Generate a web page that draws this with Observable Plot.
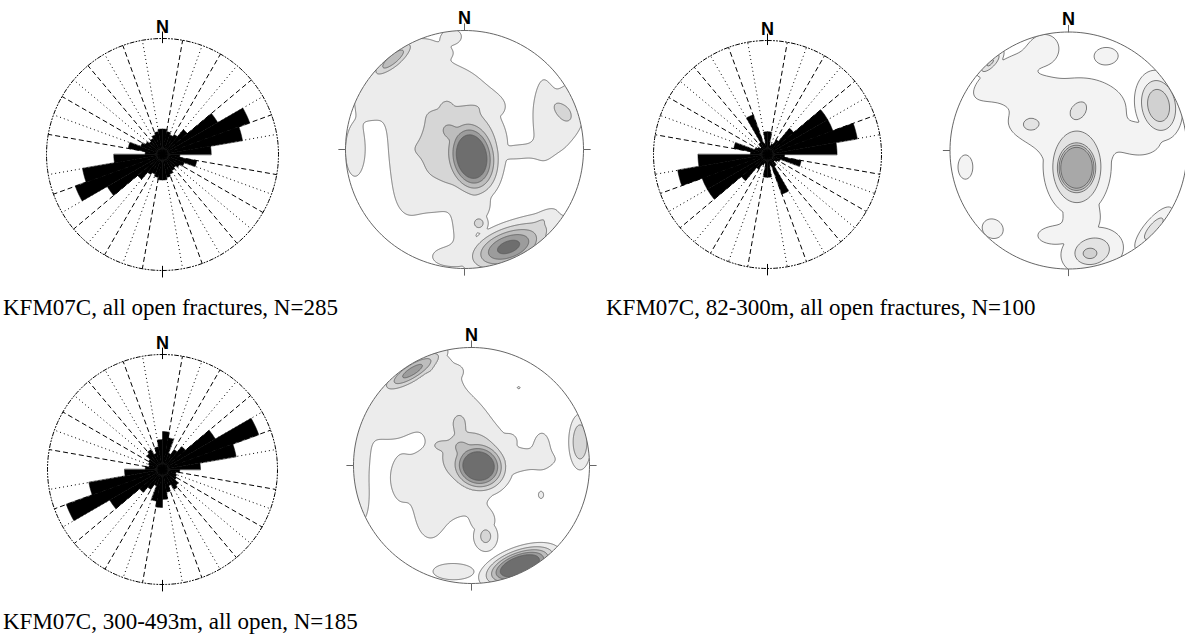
<!DOCTYPE html>
<html><head><meta charset="utf-8">
<script src="https://cdn.jsdelivr.net/npm/d3@7"></script>
<script src="https://cdn.jsdelivr.net/npm/@observablehq/plot@0.6"></script>
<style>
body{margin:0;background:#fff;}
#page{position:relative;width:1185px;height:639px;overflow:hidden;background:#fff;}
.cap{position:absolute;font-family:"Liberation Serif","Times New Roman",serif;font-size:23px;line-height:23px;color:#000;white-space:nowrap;}
</style></head><body><div id="page"></div>
<script>
// ---------- DATA ----------
// rose diagrams: relative length of each 10° strike bin, 0-10 ... 170-180 (mirrored to 180-360)
const binStarts = d3.range(0, 180, 10);
const rose1 = [0.22, 0.2, 0.18, 0.2, 0.28, 0.55, 0.8, 0.7, 0.42, 0.15, 0.3, 0.2, 0.17, 0.15, 0.16, 0.18, 0.2, 0.22];
const rose2 = [0.2, 0.08, 0.1, 0.15, 0.3, 0.61, 0.61, 0.8, 0.61, 0.15, 0.3, 0.12, 0.1, 0.08, 0.12, 0.37, 0.1, 0.2];
const rose3 = [0.33, 0.28, 0.15, 0.2, 0.26, 0.53, 0.89, 0.65, 0.33, 0.15, 0.12, 0.13, 0.14, 0.18, 0.2, 0.15, 0.2, 0.26];
// contour levels of the pole density
const levels = [1, 2, 3, 4, 5];
// pole concentrations read from the stereonets: [east, north, peak, spreadA, spreadB, tiltDeg, sharpness]
const stereo1 = [
  [0.06,-0.06,8,0.13,0.19,10],[-0.12,0.15,3.4,0.1,0.08,-40],[-0.06,0.03,2.6,0.36,0.38,0,2],[-0.15,0.36,2.3,0.07,0.07,0],
  [-0.5,0.68,1.9,0.3,0.17,35],[-0.08,0.52,1.9,0.16,0.12,0],[-0.3,0.3,1.9,0.25,0.18,0],[0.1,0.36,1.9,0.2,0.11,0],
  [-0.42,0.0,1.9,0.15,0.18,0],[-0.47,-0.3,1.9,0.1,0.2,0],[-0.25,-0.4,1.9,0.12,0.1,0],[-0.25,-0.15,1.9,0.12,0.12,0],
  [0.45,-0.02,1.9,0.18,0.05,5],[0.66,0.28,1.9,0.06,0.24,0],[0.86,0.3,1.9,0.13,0.23,-15],[0.82,0.32,2.8,0.1,0.055,-47],
  [0.08,-0.45,1.9,0.12,0.14,0],[0.0,-0.68,1.9,0.07,0.15,0],[-0.12,-0.9,1.9,0.13,0.07,0],[0.12,-0.62,2.4,0.06,0.06,0],
  [0.37,-0.82,5.5,0.22,0.11,20],[0.42,-0.76,2.9,0.32,0.11,22],[0.65,-0.6,1.9,0.13,0.06,35],
  [-0.6,0.76,3.8,0.16,0.05,40],[-0.18,0.815,1.25,0.05,0.03,0],[-0.92,-0.02,1.9,0.07,0.18,0],
  [-0.8,0.45,1.9,0.07,0.11,0],[-0.1,0.95,1.9,0.05,0.04,0]
];
const stereo2 = [
  [0.068,-0.146,8,0.135,0.175,0,2],[0.07,-0.14,2.6,0.235,0.35,0,2],[0.08,0.33,2.8,0.09,0.07,50],[-0.32,0.22,2.8,0.07,0.055,0],
  [-0.22,0.24,1.9,0.24,0.13,0],[0.17,0.42,1.9,0.24,0.14,-10],[0.08,-0.1,1.9,0.24,0.34,0],
  [-0.55,0.63,1.9,0.25,0.1,35],[-0.38,0.5,1.9,0.15,0.08,0],[-0.18,0.47,1.9,0.1,0.07,-20],
  [-0.66,0.74,3.2,0.1,0.04,45],[-0.2,0.86,1.9,0.09,0.09,0],[0.32,0.8,1.9,0.085,0.06,0],[0.76,0.38,4,0.12,0.18,10],
  [0.63,0.09,1.9,0.13,0.1,0],[-0.87,-0.14,1.9,0.055,0.09,0],[-0.64,-0.66,1.9,0.08,0.07,-30],[0.12,-0.6,1.9,0.09,0.09,0],
  [-0.12,-0.72,1.9,0.11,0.055,0],[0.2,-0.85,2.7,0.19,0.14,15],[0.18,-0.87,3.6,0.08,0.06,0],[0.72,-0.66,2.5,0.17,0.06,50]
];
const stereo3 = [
  [0.06,-0.005,8,0.138,0.124,-15],[-0.08,0.15,3.3,0.1,0.08,-30],[-0.02,0.07,2.6,0.26,0.24,0,2],[-0.1,0.33,2.4,0.07,0.12,0],[-0.25,0.17,2.4,0.1,0.06,0],
  [0.02,0.05,1.9,0.3,0.28,0],[-0.12,0.38,1.9,0.14,0.14,0],
  [-0.48,0.62,1.9,0.34,0.18,30],[-0.35,0.82,1.9,0.08,0.12,0],[-0.73,0.42,1.9,0.13,0.12,0],
  [-0.42,-0.1,1.9,0.16,0.12,0],[-0.6,-0.12,1.9,0.05,0.12,0],[-0.35,-0.4,1.9,0.1,0.18,0],[-0.18,-0.25,1.9,0.14,0.12,0],
  [0.45,0.05,1.9,0.19,0.05,0],[0.6,0.14,1.9,0.05,0.1,0],[-0.95,0.1,1.9,0.07,0.2,0],[-0.93,-0.3,1.8,0.05,0.15,0],
  [0.92,0.2,3,0.065,0.16,0],[-0.13,0.8,1.25,0.03,0.025,0],[0.4,0.66,1.1,0.02,0.015,0],[0.33,0.21,1.2,0.03,0.03,0],
  [0.59,-0.25,1.2,0.025,0.035,0],[0.41,-0.85,8,0.18,0.08,20],[0.12,-0.6,2.3,0.08,0.1,0],[0.1,-0.48,1.9,0.07,0.07,0],
  [-0.15,-0.9,1.9,0.15,0.06,0],[-0.5,0.8,4.5,0.2,0.06,32]
];
const captions = ["KFM07C, all open fractures, N=285", "KFM07C, 82-300m, all open fractures, N=100", "KFM07C, 300-493m, all open, N=185"];
const northLabel = "N";

// ---------- STYLE / LAYOUT ----------
const grays1 = ["#ececec","#d6d6d6","#bdbdbd","#9c9c9c","#6e6e6e"];
const grays2 = ["#f3f3f3","#e3e3e3","#d1d1d1","#bdbdbd","#a8a8a8"];
const page = document.getElementById("page");
const S = 290, H = S / 2;
const rad = Math.PI / 180;
const polar = (az, r) => [r * Math.sin(az * rad), r * Math.cos(az * rad)];
let clipId = 0;

function frame(R) {
  return {width: S, height: S, margin: 0, style: {background: "transparent", overflow: "visible"},
    x: {domain: [-1, 1], range: [H - R, H + R], axis: null},
    y: {domain: [-1, 1], range: [H + R, H - R], axis: null}};
}
function place(el, cx, cy) {
  el.style.position = "absolute"; el.style.left = (cx - H) + "px"; el.style.top = (cy - H) + "px";
  page.appendChild(el);
}
const nText = (r) => Plot.text([northLabel], {x: 0, y: r, text: d => d, fontSize: 18, fontWeight: "bold", fontFamily: "Liberation Sans, Arial, sans-serif", fill: "#000"});

function rose(vals, cx, cy, R) {
  const wedges = [];
  d3.range(36).forEach(i => {
    const a0 = i * 10, r = vals[i % 18];
    wedges.push({bin: i, p: [0, 0]});
    for (let k = 0; k <= 4; k++) wedges.push({bin: i, p: polar(a0 + k * 2.5, r)});
  });
  const dirs = d3.range(10, 360, 10).filter(a => a % 90 !== 0).map((a, i) => ({p: polar(a, 1), dash: i % 2 === 0}));
  const ring = d3.range(0, 361, 2).map(a => polar(a, 1));
  const ticks = [0, 180].map(a => ({p0: polar(a, 0.96), p1: polar(a, 1.06)}));
  const el = Plot.plot({...frame(R), marks: [
    Plot.link(dirs.filter(d => d.dash), {x1: 0, y1: 0, x2: d => d.p[0], y2: d => d.p[1], stroke: "#000", strokeWidth: 1, strokeDasharray: "5,3"}),
    Plot.link(dirs.filter(d => !d.dash), {x1: 0, y1: 0, x2: d => d.p[0], y2: d => d.p[1], stroke: "#000", strokeWidth: 1, strokeDasharray: "1,3"}),
    Plot.line(ring, {x: d => d[0], y: d => d[1], stroke: "#000", strokeWidth: 1, strokeDasharray: "4,2,1,2,1,2"}),
    Plot.link(ticks, {x1: d => d.p0[0], y1: d => d.p0[1], x2: d => d.p1[0], y2: d => d.p1[1], stroke: "#000", strokeWidth: 1}),
    Plot.line(wedges, {x: d => d.p[0], y: d => d.p[1], z: "bin", fill: "#000", stroke: "#000", strokeWidth: 0.5, curve: "linear-closed"}),
    nText(1.1)
  ]});
  place(el, cx, cy);
}

// density surface: broad background concentrations add up (capped below level 2); peaks combine by a soft max
function field(blobs) {
  const pre = blobs.map(([u, v, a, sx, sy, t, k = 1]) => ({u, v, a, sx, sy, k, c: Math.cos(t * rad), s: Math.sin(t * rad)}));
  return (x, y) => {
    let soft = 0, low = 0;
    for (const b of pre) {
      const dx = x - b.u, dy = y - b.v;
      const px = dx * b.c + dy * b.s, py = -dx * b.s + dy * b.c;
      const q = px * px / (b.sx * b.sx) + py * py / (b.sy * b.sy);
      const f = b.a * Math.exp(-0.5 * Math.pow(q, b.k));
      soft += Math.pow(f, 6);
      if (b.a < 2) low += f;
    }
    return Math.max(Math.pow(soft, 1 / 6), Math.min(low, 1.95));
  };
}

function stereo(blobs, grays, cx, cy, R) {
  const ring = d3.range(0, 361, 2).map(a => polar(a, 1));
  const ticks = [0, 90, 180, 270].map(a => ({p0: polar(a, 1), p1: polar(a, 1.06)}));
  const el = Plot.plot({...frame(R), color: {type: "ordinal", domain: levels, range: grays},
    marks: [
      Plot.contour({value: field(blobs), fill: "value", thresholds: levels, x1: -1.03, y1: -1.03, x2: 1.03, y2: 1.03,
        stroke: "#5a5a5a", strokeWidth: 0.8, pixelSize: 1}),
      Plot.line(ring, {x: d => d[0], y: d => d[1], stroke: "#666", strokeWidth: 1}),
      Plot.link(ticks, {x1: d => d.p0[0], y1: d => d.p0[1], x2: d => d.p1[0], y2: d => d.p1[1], stroke: "#666", strokeWidth: 1}),
      nText(1.105)
    ]});
  const ns = "http://www.w3.org/2000/svg";
  const id = "clip" + (clipId++);
  const defs = document.createElementNS(ns, "defs");
  const cp = document.createElementNS(ns, "clipPath"); cp.setAttribute("id", id);
  const c = document.createElementNS(ns, "circle");
  c.setAttribute("cx", H); c.setAttribute("cy", H); c.setAttribute("r", R);
  cp.appendChild(c); defs.appendChild(cp); el.insertBefore(defs, el.firstChild);
  const g = el.querySelector('g[aria-label="contour"]');
  if (g) g.setAttribute("clip-path", `url(#${id})`);
  place(el, cx, cy);
}

function caption(text, left, top) {
  const d = document.createElement("div"); d.className = "cap"; d.textContent = text;
  d.style.left = left + "px"; d.style.top = top + "px"; page.appendChild(d);
}

rose(rose1, 162, 154, 116);
stereo(stereo1, grays1, 464, 149, 119);
rose(rose2, 767, 154, 114);
stereo(stereo2, grays2, 1068, 150, 118.5);
rose(rose3, 162, 469, 115);
stereo(stereo3, grays1, 470.5, 465, 118);
caption(captions[0], 3, 296);
caption(captions[1], 606, 296);
caption(captions[2], 3, 610);
</script></body></html>
